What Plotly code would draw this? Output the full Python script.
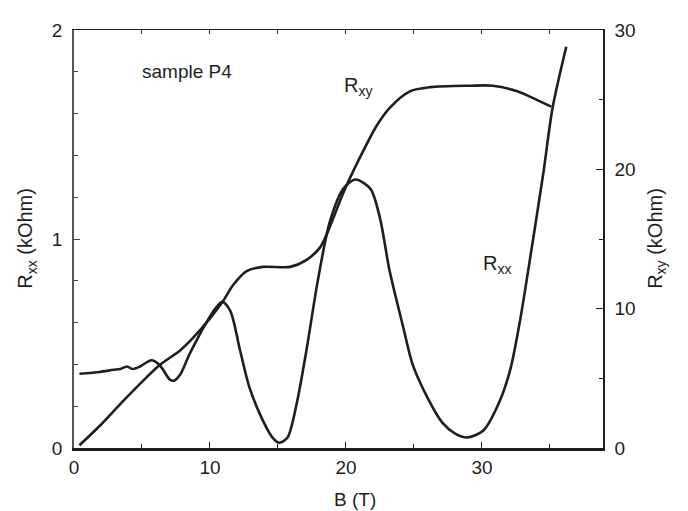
import plotly.graph_objects as go

# magnetic field (T) and longitudinal resistance Rxx (kOhm)
b_xx = [0.4, 1.9, 2.9, 3.4, 3.9, 4.3, 4.85, 5.7, 6.3, 7.05, 7.35, 7.8, 8.5, 9.3,
        10.2, 10.9, 11.5, 12.2, 12.9, 13.9, 14.6, 15.1, 15.7, 16.4, 17.1, 17.9,
        18.8, 19.8, 20.7, 21.8, 22.5, 23.2, 24.2, 24.9, 26.0, 27.1, 28.0, 28.9,
        30.1, 31.3, 32.1, 32.8, 33.4, 34.5, 35.2, 36.2]
r_xx = [0.355, 0.364, 0.374, 0.378, 0.390, 0.378, 0.390, 0.420, 0.397, 0.327, 0.322,
        0.350, 0.450, 0.550, 0.650, 0.700, 0.655, 0.470, 0.290, 0.130, 0.050, 0.025,
        0.050, 0.220, 0.470, 0.790, 1.080, 1.240, 1.285, 1.240, 1.100, 0.850, 0.580,
        0.400, 0.240, 0.120, 0.070, 0.050, 0.084, 0.224, 0.380, 0.610, 0.850, 1.310,
        1.630, 1.920]

# magnetic field (T) and Hall resistance Rxy (kOhm)
b_xy = [0.4, 1.9, 3.4, 4.85, 6.3, 7.8, 8.75, 10.0, 11.0, 11.7, 12.7, 13.9, 15.9,
        17.1, 18.1, 18.7, 19.8, 21.0, 22.3, 23.2, 24.7, 26.2, 29.1, 30.8, 32.6,
        34.0, 35.1]
r_xy = [0.2, 1.6, 3.15, 4.6, 5.95, 7.0, 7.9, 9.3, 10.6, 11.7, 12.7, 13.0, 13.0,
        13.5, 14.4, 15.6, 18.3, 20.8, 23.2, 24.4, 25.6, 25.9, 26.0, 26.0, 25.6,
        25.0, 24.5]

FONT = "Liberation Sans, Arial, Helvetica, sans-serif"
INK = "#1e1e1e"

fig = go.Figure()

fig.add_trace(go.Scatter(
    x=b_xx, y=r_xx, mode="lines", name="Rxx",
    line=dict(color=INK, width=2.6, shape="spline", smoothing=0.8),
    xaxis="x", yaxis="y", showlegend=False
))
fig.add_trace(go.Scatter(
    x=b_xy, y=r_xy, mode="lines", name="Rxy",
    line=dict(color=INK, width=2.6, shape="spline", smoothing=0.8),
    xaxis="x", yaxis="y2", showlegend=False
))
# invisible trace so the top axis gets drawn
fig.add_trace(go.Scatter(
    x=[b_xx[0]], y=[r_xx[0]], mode="markers", marker=dict(opacity=0),
    xaxis="x2", yaxis="y", showlegend=False, hoverinfo="skip"
))

tick_font = dict(family=FONT, size=19, color=INK)

# page body has an 8px margin, so the figure is 8px smaller than the window
fig.update_layout(
    width=680, height=503,
    margin=dict(l=66, r=85, t=12, b=63),
    paper_bgcolor="white", plot_bgcolor="white",
    font=dict(family=FONT, color=INK),
    xaxis=dict(
        range=[0, 38.9], showline=True, linewidth=2.5, linecolor=INK,
        ticks="inside", ticklen=6, tickwidth=1.2, tickcolor=INK, dtick=10, tick0=0,
        minor=dict(ticks="inside", ticklen=4, tickwidth=1, tickcolor=INK, dtick=5),
        showgrid=False, zeroline=False, tickfont=tick_font
    ),
    xaxis2=dict(
        range=[0, 38.9], overlaying="x", side="top", showline=True, linewidth=1.4,
        linecolor=INK, ticks="inside", ticklen=4, tickwidth=1, tickcolor=INK,
        dtick=5, tick0=0, showticklabels=False, showgrid=False, zeroline=False
    ),
    yaxis=dict(
        range=[0, 2], showline=True, linewidth=1.5, linecolor="#555555",
        ticks="inside", ticklen=6, tickwidth=1.2, tickcolor="#444444", dtick=1, tick0=0,
        minor=dict(ticks="inside", ticklen=4, tickwidth=1, tickcolor="#444444", dtick=0.2),
        showgrid=False, zeroline=False, tickfont=tick_font, ticklabelstandoff=6
    ),
    yaxis2=dict(
        range=[0, 30], overlaying="y", side="right", showline=True, linewidth=1.5,
        linecolor=INK, ticks="inside", ticklen=7, tickwidth=1.2, tickcolor=INK,
        dtick=10, tick0=0,
        minor=dict(ticks="inside", ticklen=4, tickwidth=1, tickcolor=INK, dtick=5),
        showgrid=False, zeroline=False, tickfont=tick_font, ticklabelstandoff=6
    ),
)

annotations = [
    # axis titles
    dict(text="R<sub>xx</sub> (kOhm)", xref="paper", yref="paper", x=-0.117, y=0.502,
         textangle=-90, showarrow=False, font=dict(size=20)),
    dict(text="R<sub>xy</sub> (kOhm)", xref="paper", yref="paper", x=1.127, y=0.502,
         textangle=-90, showarrow=False, font=dict(size=20)),
    dict(text="B (T)", xref="paper", yref="paper", x=0.532, y=-0.152,
         showarrow=False, font=dict(size=19)),
    # in-plot labels
    dict(text="sample P4", x=8.3, y=1.80, xref="x", yref="y",
         showarrow=False, font=dict(size=19)),
    dict(text="R<sub>xy</sub>", x=20.9, y=1.73, xref="x", yref="y",
         showarrow=False, font=dict(size=20)),
    dict(text="R<sub>xx</sub>", x=31.1, y=0.88, xref="x", yref="y",
         showarrow=False, font=dict(size=20)),
]
fig.update_layout(annotations=annotations)

fig.write_html("out.html")
